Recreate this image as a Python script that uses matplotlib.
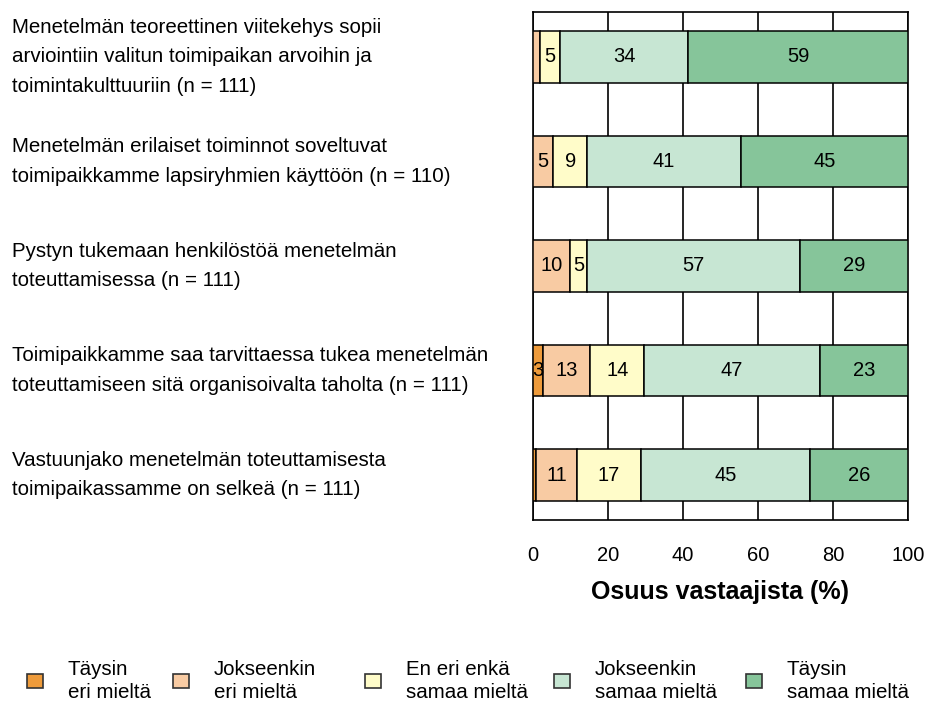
import matplotlib
matplotlib.use('Agg')

import numpy as np
from matplotlib import pyplot as plt
from matplotlib.patches import Patch
from matplotlib.transforms import blended_transform_factory

plt.rcParams['font.family'] = ['Liberation Sans', 'DejaVu Sans']

categories = [
    'Menetelmän teoreettinen viitekehys sopii\narviointiin valitun toimipaikan arvoihin ja\ntoimintakulttuuriin (n = 111)',
    'Menetelmän erilaiset toiminnot soveltuvat\ntoimipaikkamme lapsiryhmien käyttöön (n = 110)',
    'Pystyn tukemaan henkilöstöä menetelmän\ntoteuttamisessa (n = 111)',
    'Toimipaikkamme saa tarvittaessa tukea menetelmän\ntoteuttamiseen sitä organisoivalta taholta (n = 111)',
    'Vastuunjako menetelmän toteuttamisesta\ntoimipaikassamme on selkeä (n = 111)',
]
responses = ['Täysin\neri mieltä', 'Jokseenkin\neri mieltä', 'En eri enkä\nsamaa mieltä',
             'Jokseenkin\nsamaa mieltä', 'Täysin\nsamaa mieltä']

# percentages per response option, one value per statement
taysin_eri = [0.0, 0.0, 0.0, 2.7, 0.9]
jokseenkin_eri = [1.8, 5.4, 9.9, 12.6, 10.8]
en_eri_enka = [5.4, 9.1, 4.6, 14.4, 17.1]
jokseenkin_samaa = [34.2, 40.9, 56.8, 46.8, 45.0]
taysin_samaa = [58.6, 44.6, 28.8, 23.4, 26.1]

colors = ['#EE9B3B', '#F8CBA3', '#FFFCC9', '#C7E6D3', '#86C59A']
# left edge of each legend square, figure fraction
legend_x = [0.0288, 0.1848, 0.390, 0.5919, 0.797]


def main(output='out.png'):
    series = [taysin_eri, jokseenkin_eri, en_eri_enka, jokseenkin_samaa, taysin_samaa]
    fig = plt.figure(figsize=(9.36, 7.06), dpi=100)
    ax = fig.add_axes([0.5694, 0.2635, 0.4007, 0.7195])

    y = np.arange(len(categories))
    left = np.zeros(len(categories))
    for vals, col in zip(series, colors):
        vals = np.array(vals)
        ax.barh(y, vals, left=left, height=0.49, color=col, edgecolor='black',
                linewidth=1.1, zorder=3)
        for yi, l, v in zip(y, left, vals):
            if v >= 2.5:
                ax.text(l + v / 2, yi, f'{v:.0f}', ha='center', va='center',
                        fontsize=14.5, zorder=4)
        left += vals

    ax.set_xlim(0, 100)
    ax.set_ylim(4.43, -0.43)
    ax.set_xticks([0, 20, 40, 60, 80, 100])
    ax.xaxis.grid(True, color='black', linewidth=1.2, zorder=0)
    ax.set_axisbelow(True)
    ax.tick_params(axis='x', length=0, pad=18.5, labelsize=14.5)
    ax.set_yticks([])
    for s in ax.spines.values():
        s.set_linewidth(1.2)
    ax.set_xlabel('Osuus vastaajista (%)', fontsize=18, fontweight='bold', labelpad=11)

    # statement texts: left-aligned at the figure edge, centred on each bar
    trans = blended_transform_factory(fig.transFigure, ax.transData)
    for yi, cat in zip(y, categories):
        ax.text(12 / 936, yi, cat, transform=trans, ha='left', va='center',
                fontsize=14.8, linespacing=1.68)

    for c, lab, x in zip(colors, responses, legend_x):
        h = Patch(facecolor=c, edgecolor='#333333', linewidth=1.2)
        leg = fig.legend([h], [lab], loc='center left', bbox_to_anchor=(x, 0.0354),
                         frameon=False, fontsize=14.8, handlelength=0.78,
                         handleheight=0.68, handletextpad=1.2, borderpad=0,
                         borderaxespad=0)
        for t in leg.get_texts():
            t.set_linespacing(1.3)

    fig.savefig(output, dpi=100)


if __name__ == '__main__':
    main()
